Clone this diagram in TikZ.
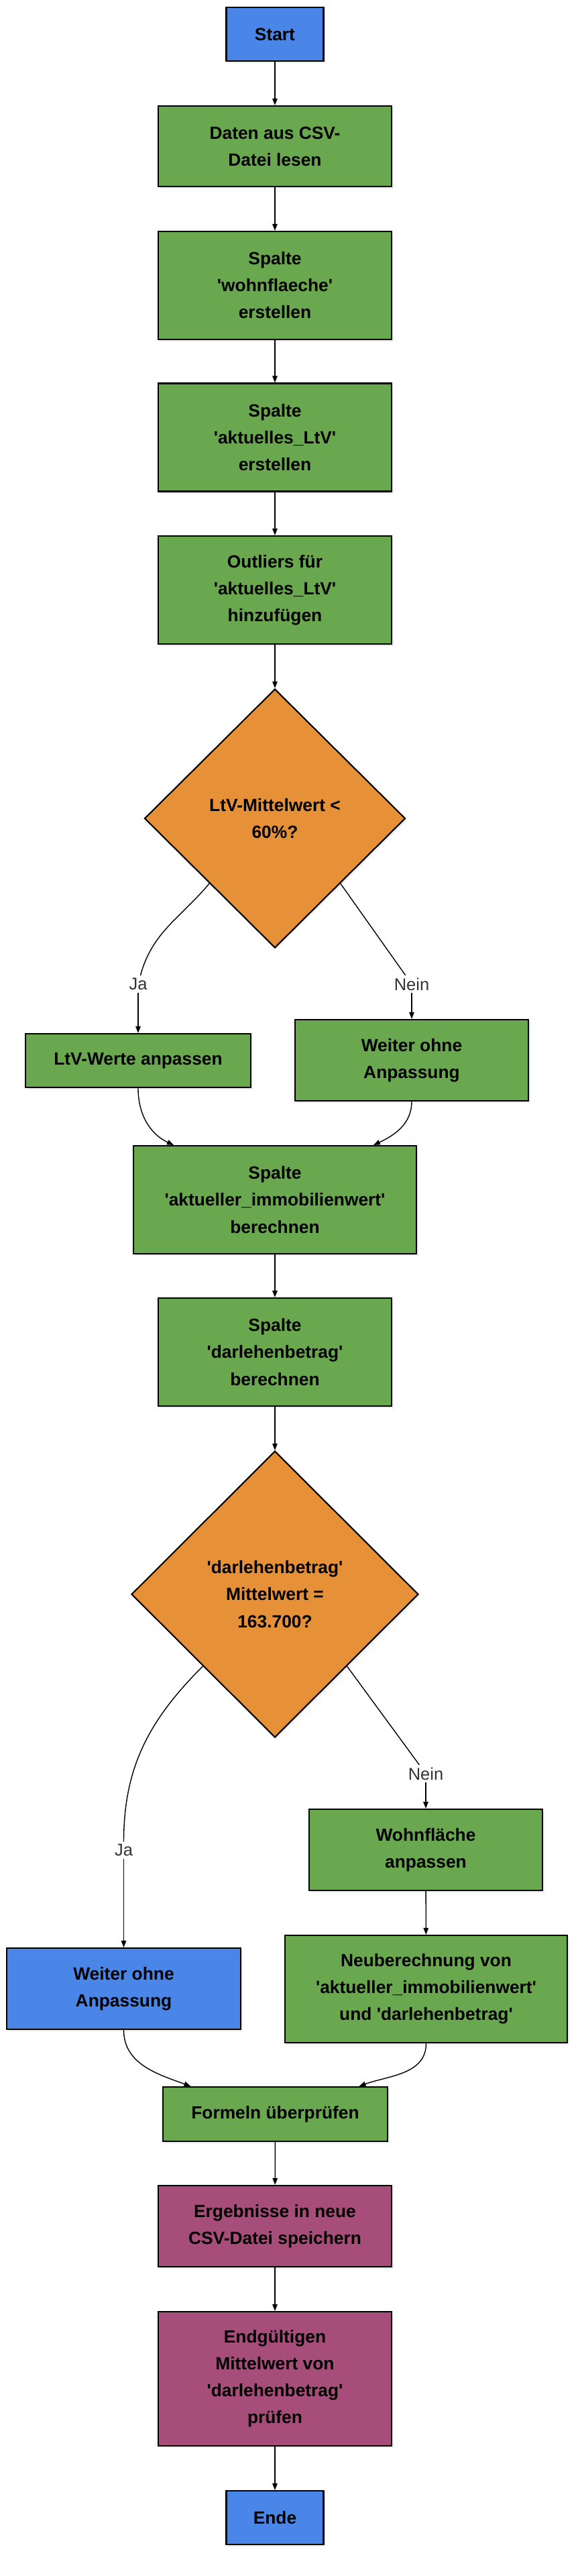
\documentclass[tikz,border=0pt]{standalone}
\usepackage{fontspec}
\setmainfont{Liberation Sans}[Ligatures=TeXOff]
\usetikzlibrary{shapes.geometric, arrows.meta, shadows}
\definecolor{stepgreen}{HTML}{6AA84F}
\definecolor{termblue}{HTML}{4A86E8}
\definecolor{askorange}{HTML}{E69138}
\definecolor{storepurple}{HTML}{A64D79}
\definecolor{labelgray}{HTML}{333333}

\begin{document}
\begin{tikzpicture}[
    box/.style={rectangle, draw=black, line width=1.2pt, align=center,
        inner sep=0pt, minimum width=6.96cm, text=black,
        font=\fontsize{15}{22.8}\selectfont\bfseries,
        drop shadow={shadow xshift=0.05cm, shadow yshift=-0.05cm, opacity=0.15}},
    terminal/.style={box, fill=termblue, minimum width=2.9cm, minimum height=1.6cm},
    task/.style={box, fill=stepgreen},
    storebox/.style={box, fill=storepurple},
    decision/.style={diamond, aspect=1, draw=black, line width=1.2pt,
        fill=askorange, align=center, inner sep=0pt, text=black,
        font=\fontsize{15}{22.8}\selectfont\bfseries,
        drop shadow={shadow xshift=0.05cm, shadow yshift=-0.05cm, opacity=0.15}},
    answer/.style={fill=white, inner sep=2pt, text=labelgray,
        font=\fontsize{14.5}{17}\selectfont},
    flow/.style={line width=0.8pt, -{Triangle[length=0.2cm, width=0.15cm]}},
    link/.style={line width=0.8pt}
]
    \useasboundingbox (0,0) rectangle (17.3,-76.8);

    \node[terminal] (start) at (8.2,-1.02) {Start};
    \node[task, minimum height=2.4cm] (read) at (8.2,-4.36) {Daten aus CSV-\\Datei lesen};
    \node[task, minimum height=3.22cm] (wohn) at (8.2,-8.51) {Spalte\\'wohnflaeche'\\erstellen};
    \node[task, minimum height=3.22cm] (ltv) at (8.2,-13.04) {Spalte\\'aktuelles\_LtV'\\erstellen};
    \node[task, minimum height=3.22cm] (outl) at (8.2,-17.59) {Outliers für\\'aktuelles\_LtV'\\hinzufügen};
    \node[decision, minimum width=7.78cm, minimum height=7.72cm] (dec1) at (8.2,-24.4) {LtV-Mittelwert <\\60\%?};
    \node[task, minimum width=6.72cm, minimum height=1.6cm] (adj) at (4.12,-31.62) {LtV-Werte anpassen};
    \node[task, minimum height=2.42cm] (keep1) at (12.28,-31.61) {Weiter ohne\\Anpassung};
    \node[task, minimum width=8.44cm, minimum height=3.22cm] (immo) at (8.2,-35.77) {Spalte\\'aktueller\_immobilienwert'\\berechnen};
    \node[task, minimum height=3.22cm] (darl) at (8.2,-40.31) {Spalte\\'darlehenbetrag'\\berechnen};
    \node[decision, minimum width=8.56cm, minimum height=8.54cm] (dec2) at (8.2,-47.53) {'darlehenbetrag'\\Mittelwert =\\163.700?};
    \node[task, minimum height=2.42cm] (wfl) at (12.7,-55.15) {Wohnfläche\\anpassen};
    \node[terminal, minimum width=6.98cm, minimum height=2.42cm] (keep2) at (3.69,-59.29) {Weiter ohne\\Anpassung};
    \node[task, minimum width=8.42cm, minimum height=3.2cm] (recalc) at (12.71,-59.3) {Neuberechnung von\\'aktueller\_immobilienwert'\\und 'darlehenbetrag'};
    \node[task, minimum width=6.7cm, minimum height=1.62cm] (check) at (8.21,-63.03) {Formeln überprüfen};
    \node[storebox, minimum height=2.42cm] (save) at (8.2,-66.37) {Ergebnisse in neue\\CSV-Datei speichern};
    \node[storebox, minimum height=4cm] (final) at (8.2,-70.92) {Endgültigen\\Mittelwert von\\'darlehenbetrag'\\prüfen};
    \node[terminal] (ende) at (8.2,-75.06) {Ende};

    % branch labels
    \node[answer] (ja1) at (4.12,-29.34) {Ja};
    \node[answer] (nein1) at (12.28,-29.34) {Nein};
    \node[answer] (ja2) at (3.69,-55.16) {Ja};
    \node[answer] (nein2) at (12.7,-52.88) {Nein};

    \draw[flow] (start) -- (read);
    \draw[flow] (read) -- (wohn);
    \draw[flow] (wohn) -- (ltv);
    \draw[flow] (ltv) -- (outl);
    \draw[flow] (outl) -- (dec1);
    \draw[link] (dec1.south west) to[out=-130, in=75] (ja1);
    \draw[flow] (ja1) -- (adj);
    \draw[link] (dec1.south east) -- (nein1);
    \draw[flow] (nein1) -- (keep1);
    \draw[flow] (adj.south) to[out=-90, in=155] ([xshift=-3.02cm]immo.north);
    \draw[flow] (keep1.south) to[out=-90, in=25] ([xshift=2.94cm]immo.north);
    \draw[flow] (immo) -- (darl);
    \draw[flow] (darl) -- (dec2);
    \draw[link] (dec2.south west) to[out=-135, in=90] (ja2);
    \draw[flow] (ja2) -- (keep2);
    \draw[link] (dec2.south east) -- (nein2);
    \draw[flow] (nein2) -- (wfl);
    \draw[flow] (wfl) -- (recalc);
    \draw[flow] (keep2.south) to[out=-90, in=160] ([xshift=-2.52cm]check.north);
    \draw[flow] (recalc.south) to[out=-90, in=20] ([xshift=2.5cm]check.north);
    \draw[flow] (check) -- (save);
    \draw[flow] (save) -- (final);
    \draw[flow] (final) -- (ende);
\end{tikzpicture}
\end{document}
